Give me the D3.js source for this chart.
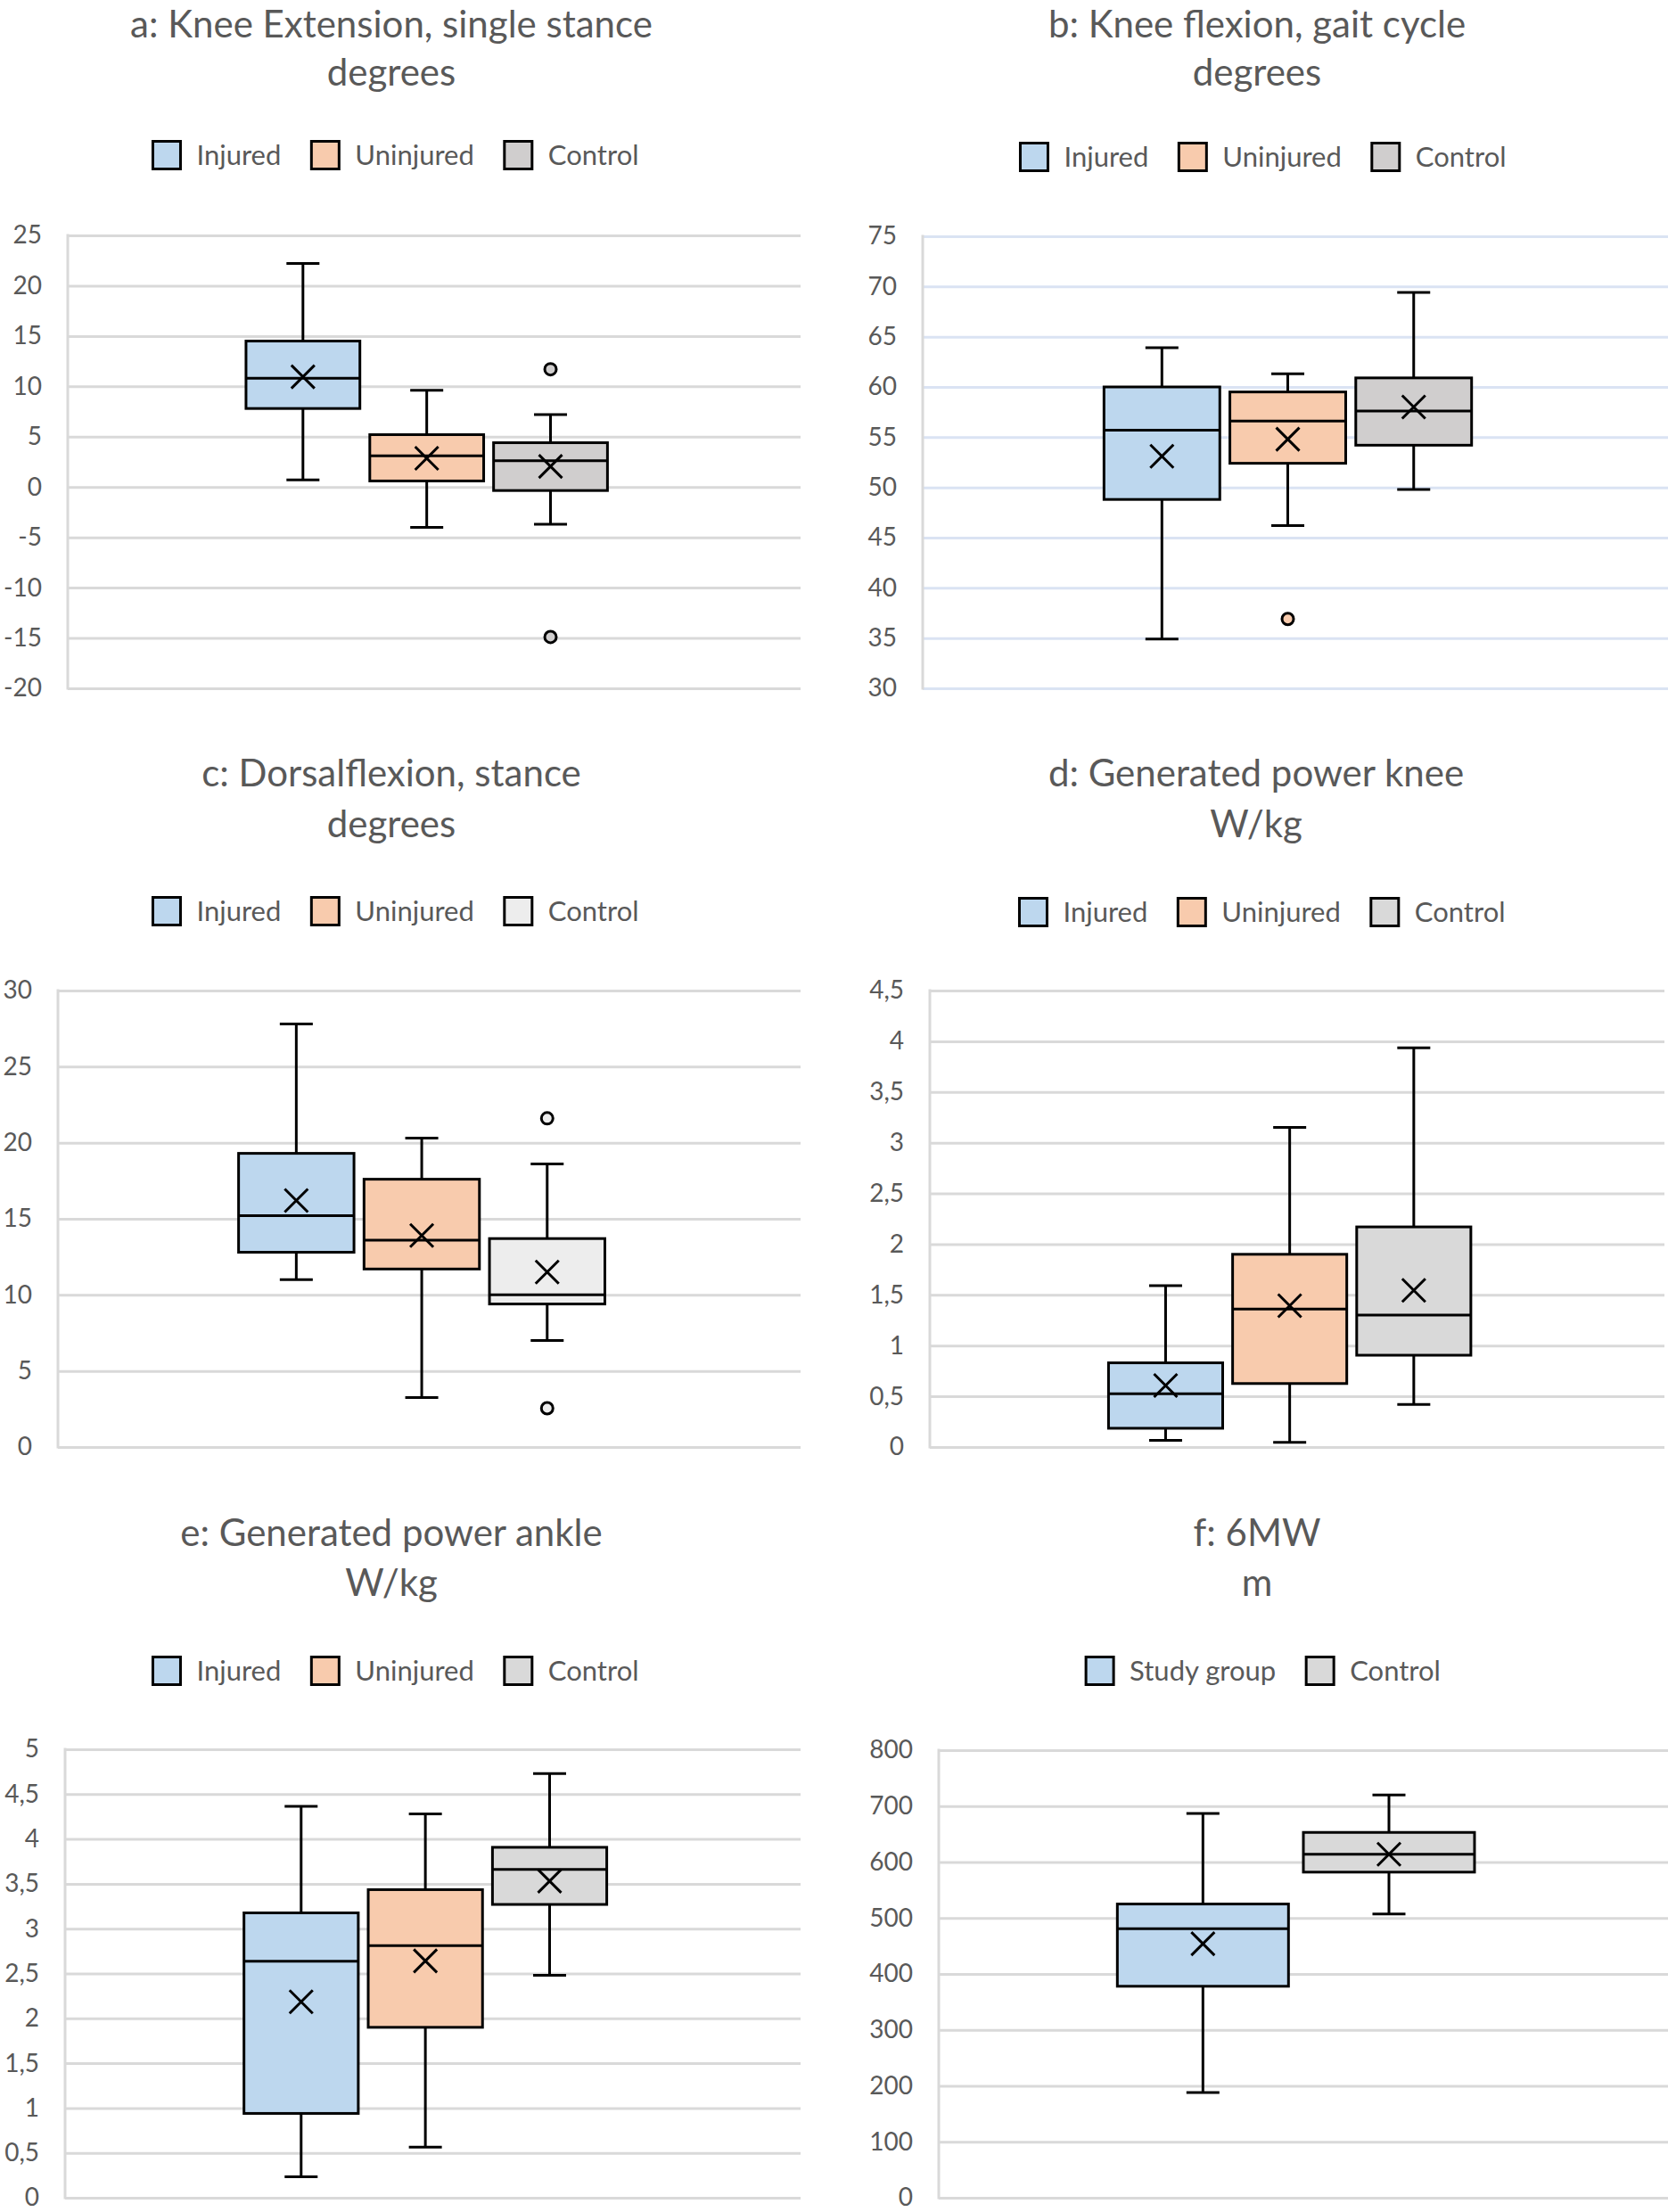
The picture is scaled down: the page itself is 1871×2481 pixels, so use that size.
<!DOCTYPE html>
<html>
<head>
<meta charset="utf-8">
<script src="https://cdn.jsdelivr.net/npm/d3@7"></script>
<style>
  html, body { margin: 0; padding: 0; background: #fff; }
  svg text { font-family: Lato, "Open Sans", sans-serif; fill: #595959; }
</style>
</head>
<body>
<div id="chart"></div>
<script>
(function () {
  "use strict";

  // ── Data ────────────────────────────────────────────────────────────────
  const groupsLeg = ["Injured", "Uninjured", "Control"];
  const groupsWalk = ["Study group", "Control"];

  // box stats: [min, q1, median, q3, max]
  const kneeExtBox = [[0.7, 7.8, 10.8, 14.5, 22.2], [-4.0, 0.6, 3.1, 5.2, 9.6], [-3.7, -0.35, 2.6, 4.4, 7.2]];
  const kneeExtMean = [10.95, 2.85, 2.05];
  const kneeExtOut = [[], [], [11.7, -14.9]];
  const kneeExtTicks = [-20, -15, -10, -5, 0, 5, 10, 15, 20, 25];

  const kneeFlexBox = [[34.9, 48.8, 55.7, 60.0, 63.9], [46.2, 52.4, 56.6, 59.5, 61.3], [49.8, 54.2, 57.6, 60.9, 69.4]];
  const kneeFlexMean = [53.1, 54.8, 58.0];
  const kneeFlexOut = [[], [36.9], []];
  const kneeFlexTicks = [30, 35, 40, 45, 50, 55, 60, 65, 70, 75];

  const dorsiBox = [[11.0, 12.8, 15.2, 19.3, 27.8], [3.25, 11.7, 13.6, 17.6, 20.3], [7.0, 9.4, 10.0, 13.7, 18.6]];
  const dorsiMean = [16.2, 13.9, 11.5];
  const dorsiOut = [[], [], [21.6, 2.55]];
  const dorsiTicks = [0, 5, 10, 15, 20, 25, 30];

  const powerKneeBox = [[0.065, 0.185, 0.525, 0.83, 1.59], [0.047, 0.626, 1.36, 1.9, 3.15], [0.42, 0.905, 1.3, 2.17, 3.935]];
  const powerKneeMean = [0.607, 1.393, 1.545];
  const powerKneeOut = [[], [], []];
  const powerKneeTicks = [0, 0.5, 1, 1.5, 2, 2.5, 3, 3.5, 4, 4.5];

  const powerAnkleBox = [[0.234, 0.94, 2.637, 3.176, 4.365], [0.564, 1.9, 2.81, 3.435, 4.28], [2.48, 3.27, 3.66, 3.907, 4.73]];
  const powerAnkleMean = [2.185, 2.64, 3.53];
  const powerAnkleOut = [[], [], []];
  const powerAnkleTicks = [0, 0.5, 1, 1.5, 2, 2.5, 3, 3.5, 4, 4.5, 5];

  const walkBox = [[188, 378, 481, 525, 687], [507, 582, 614, 653, 720]];
  const walkMean = [454, 614];
  const walkOut = [[], []];
  const walkTicks = [0, 100, 200, 300, 400, 500, 600, 700, 800];

  const titles = [
    ["a: Knee Extension, single stance", "degrees"],
    ["b: Knee flexion, gait cycle", "degrees"],
    ["c: Dorsalflexion, stance", "degrees"],
    ["d: Generated power knee", "W/kg"],
    ["e: Generated power ankle", "W/kg"],
    ["f: 6MW", "m"]
  ];

  // Colours
  const BLUE = "#bdd7ee", ORANGE = "#f8cbad";

  // ── Layout (pixels) ─────────────────────────────────────────────────────
  const panels = [
    { x0: 76,   x1: 898,  top: 264,  bottom: 772,  tx: 439,  ty: [42, 96],     lx: 444,  ly: 174,
      groups: groupsLeg, box: kneeExtBox, mean: kneeExtMean, out: kneeExtOut, ticks: kneeExtTicks,
      colors: [BLUE, ORANGE, "#d0cece"], grid: "#d9d9d9" },
    { x0: 1035, x1: 1871, top: 265,  bottom: 772,  tx: 1410, ty: [42, 96],     lx: 1417, ly: 176,
      groups: groupsLeg, box: kneeFlexBox, mean: kneeFlexMean, out: kneeFlexOut, ticks: kneeFlexTicks,
      colors: [BLUE, ORANGE, "#d0cece"], grid: "#dae3f3" },
    { x0: 65,   x1: 898,  top: 1111, bottom: 1623, tx: 439,  ty: [882, 939],   lx: 444,  ly: 1022,
      groups: groupsLeg, box: dorsiBox, mean: dorsiMean, out: dorsiOut, ticks: dorsiTicks,
      colors: [BLUE, ORANGE, "#ededed"], grid: "#d9d9d9" },
    { x0: 1043, x1: 1867, top: 1111, bottom: 1623, tx: 1409, ty: [882, 939],   lx: 1416, ly: 1023,
      groups: groupsLeg, box: powerKneeBox, mean: powerKneeMean, out: powerKneeOut, ticks: powerKneeTicks,
      colors: [BLUE, ORANGE, "#d9d9d9"], grid: "#d9d9d9" },
    { x0: 73,   x1: 898,  top: 1962, bottom: 2465, tx: 439,  ty: [1734, 1790], lx: 444,  ly: 1874,
      groups: groupsLeg, box: powerAnkleBox, mean: powerAnkleMean, out: powerAnkleOut, ticks: powerAnkleTicks,
      colors: [BLUE, ORANGE, "#d9d9d9"], grid: "#d9d9d9" },
    { x0: 1053, x1: 1871, top: 1963, bottom: 2465, tx: 1410, ty: [1734, 1790], lx: 1417, ly: 1874,
      groups: groupsWalk, box: walkBox, mean: walkMean, out: walkOut, ticks: walkTicks,
      colors: [BLUE, "#d9d9d9"], grid: "#d9d9d9" }
  ];

  const W = 1871, H = 2481;
  const fmt = d3.formatLocale({ decimal: ",", thousands: " ", grouping: [3], currency: ["", ""], minus: "-" }).format("~g");

  const svg = d3.select("#chart")
    .append("svg")
    .attr("width", W)
    .attr("height", H)
    .attr("viewBox", `0 0 ${W} ${H}`);

  panels.forEach((p, pi) => {
    const g = svg.append("g");
    const n = p.groups.length;

    const y = d3.scaleLinear()
      .domain(d3.extent(p.ticks))
      .range([p.bottom, p.top]);

    const x = d3.scaleBand()
      .domain(p.groups)
      .range([p.x0, p.x1])
      .paddingInner(0.08)
      .paddingOuter(n === 3 ? 1.5 : 1.0)
      .align(0.48);

    // Title
    const title = g.append("text")
      .attr("text-anchor", "middle")
      .style("font-size", "42px");
    titles[pi].forEach((line, li) => {
      title.append("tspan")
        .attr("x", p.tx)
        .attr("y", p.ty[li])
        .text(line);
    });

    // Legend
    const leg = g.append("g");
    let cx = 0;
    p.groups.forEach((name, i) => {
      const item = leg.append("g").attr("transform", `translate(${cx},0)`);
      item.append("rect")
        .attr("x", 0).attr("y", -15.5)
        .attr("width", 31).attr("height", 31)
        .attr("fill", p.colors[i])
        .attr("stroke", "#000")
        .attr("stroke-width", 3);
      const t = item.append("text")
        .attr("x", 49)
        .attr("dy", "0.35em")
        .style("font-size", "31px")
        .text(name);
      cx += 49 + t.node().getComputedTextLength() + 34;
    });
    const legW = cx - 34;
    leg.attr("transform", `translate(${p.lx - legW / 2},${p.ly})`);

    // Grid lines
    g.append("g")
      .attr("transform", `translate(${p.x0},0)`)
      .call(d3.axisLeft(y).tickValues(p.ticks).tickSize(-(p.x1 - p.x0)).tickFormat(""))
      .call(s => s.select(".domain").remove())
      .call(s => s.selectAll("line").attr("stroke", p.grid).attr("stroke-width", 3));

    // Vertical axis line
    g.append("line")
      .attr("x1", p.x0).attr("x2", p.x0)
      .attr("y1", p.top - 1.5).attr("y2", p.bottom + 1.5)
      .attr("stroke", "#d9d9d9")
      .attr("stroke-width", 3);

    // Tick labels
    g.append("g")
      .attr("transform", `translate(${p.x0},0)`)
      .call(d3.axisLeft(y).tickValues(p.ticks).tickSize(0).tickPadding(29).tickFormat(fmt))
      .call(s => s.select(".domain").remove())
      .call(s => s.selectAll("text")
        .attr("fill", "#595959")
        .style("font-size", "28px")
        .style("font-family", "Lato, 'Open Sans', sans-serif"));

    // Boxes
    const capW = 37, xHalf = 13;
    p.groups.forEach((name, i) => {
      const [mn, q1, md, q3, mx] = p.box[i];
      const bx = x(name), bw = x.bandwidth(), c = bx + bw / 2;
      const bg = g.append("g")
        .attr("stroke", "#000")
        .attr("stroke-width", 3)
        .attr("fill", "none");

      // whiskers
      bg.append("line").attr("x1", c).attr("x2", c).attr("y1", y(mx)).attr("y2", y(q3));
      bg.append("line").attr("x1", c).attr("x2", c).attr("y1", y(q1)).attr("y2", y(mn));
      bg.append("line").attr("x1", c - capW / 2).attr("x2", c + capW / 2).attr("y1", y(mx)).attr("y2", y(mx));
      bg.append("line").attr("x1", c - capW / 2).attr("x2", c + capW / 2).attr("y1", y(mn)).attr("y2", y(mn));

      // box
      bg.append("rect")
        .attr("x", bx).attr("width", bw)
        .attr("y", y(q3)).attr("height", y(q1) - y(q3))
        .attr("fill", p.colors[i]);
      bg.append("line").attr("x1", bx).attr("x2", bx + bw).attr("y1", y(md)).attr("y2", y(md));

      // mean marker
      const my = y(p.mean[i]);
      bg.append("path")
        .attr("d", `M${c - xHalf},${my - xHalf}L${c + xHalf},${my + xHalf}M${c - xHalf},${my + xHalf}L${c + xHalf},${my - xHalf}`);

      // outliers
      p.out[i].forEach(v => {
        bg.append("circle")
          .attr("cx", c).attr("cy", y(v)).attr("r", 6.5)
          .attr("fill", p.colors[i]);
      });
    });
  });
})();
</script>
</body>
</html>
